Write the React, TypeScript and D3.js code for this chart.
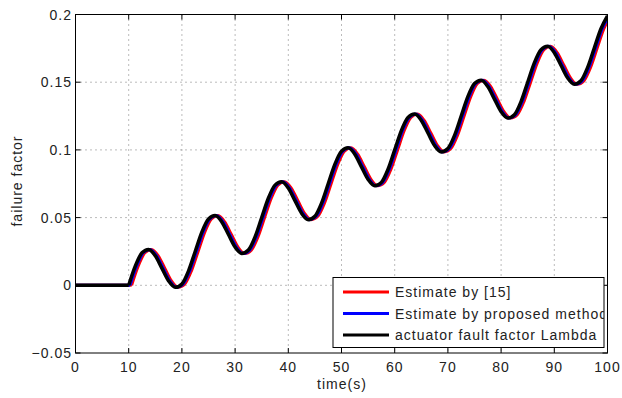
import React from "react";
import * as d3 from "d3";

// time samples (s)
const timeSamples: number[] = [
  0, 10,
  11.25, 12.5, 13.75, 15, 16.25, 17.5, 18.75, 20, 21.25,
  22.5, 23.75, 25, 26.25, 27.5, 28.75, 30, 31.25, 32.5, 33.75,
  35, 36.25, 37.5, 38.75, 40, 41.25, 42.5, 43.75, 45, 46.25,
  47.5, 48.75, 50, 51.25, 52.5, 53.75, 55, 56.25, 57.5, 58.75,
  60, 61.25, 62.5, 63.75, 65, 66.25, 67.5, 68.75, 70, 71.25,
  72.5, 73.75, 75, 76.25, 77.5, 78.75, 80, 81.25, 82.5, 83.75,
  85, 86.25, 87.5, 88.75, 90, 91.25, 92.5, 93.75, 95, 96.25,
  97.5, 98.75, 100,
];

// actuator fault factor Lambda
const lambdaValues: number[] = [
  0, 0,
  0.0143, 0.024, 0.0265, 0.0218, 0.0125, 0.0032, -0.0015, 0.001, 0.0107,
  0.025, 0.0393, 0.049, 0.0515, 0.0468, 0.0375, 0.0282, 0.0235, 0.026, 0.0357,
  0.05, 0.0643, 0.074, 0.0765, 0.0718, 0.0625, 0.0532, 0.0485, 0.051, 0.0607,
  0.075, 0.0893, 0.099, 0.1015, 0.0968, 0.0875, 0.0782, 0.0735, 0.076, 0.0857,
  0.1, 0.1143, 0.124, 0.1265, 0.1218, 0.1125, 0.1032, 0.0985, 0.101, 0.1107,
  0.125, 0.1393, 0.149, 0.1515, 0.1468, 0.1375, 0.1282, 0.1235, 0.126, 0.1357,
  0.15, 0.1643, 0.174, 0.1765, 0.1718, 0.1625, 0.1532, 0.1485, 0.151, 0.1607,
  0.175, 0.1893, 0.199,
];

// estimation lag of each estimator (s)
const redLag = 0.55;
const blueLag = 0.25;

const xTicks: number[] = [0, 10, 20, 30, 40, 50, 60, 70, 80, 90, 100];
const yTicks: number[] = [-0.05, 0, 0.05, 0.1, 0.15, 0.2];
const yTickLabels: string[] = ["\u22120.05", "0", "0.05", "0.1", "0.15", "0.2"];

const legendLabels: string[] = [
  "Estimate by [15]",
  "Estimate by proposed method",
  "actuator fault factor Lambda",
];
const seriesColors: string[] = ["#ff0000", "#0000ff", "#000000"];

const W = 622;
const H = 398;
const L = 75.5;
const R = 607.5;
const T = 14.5;
const B = 353;
const FONT = "'Liberation Sans', Arial, Helvetica, sans-serif";

export default function App() {
  const x = d3.scaleLinear().domain([0, 100]).range([L, R]);
  const y = d3.scaleLinear().domain([-0.05, 0.2]).range([B, T]);

  const mk = (lag: number) => {
    const pts: [number, number][] = timeSamples.map((t, i) => [
      t === 0 ? 0 : t + lag,
      lambdaValues[i],
    ]);
    return pts;
  };
  const curve = d3
    .line<[number, number]>()
    .x((d) => x(d[0]))
    .y((d) => y(d[1]))
    .curve(d3.curveMonotoneX);
  const straight = d3
    .line<[number, number]>()
    .x((d) => x(d[0]))
    .y((d) => y(d[1]));

  const pathFor = (pts: [number, number][]) => {
    const flat = straight(pts.slice(0, 2)) || "";
    const rest = curve(pts.slice(1)) || "";
    return flat + rest;
  };

  const series = [mk(redLag), mk(blueLag), mk(0)];
  const widths = [3, 3, 3.5];

  const legX = 333;
  const legY = 277.5;
  const legW = 271;
  const legH = 70;
  const rowY = [292, 313.5, 335];

  return (
    <svg width={W} height={H} style={{ position: "absolute", left: 0, top: 0, background: "#fff" }}>
      <defs>
        <clipPath id="plot">
          <rect x={L} y={T - 2} width={R - L} height={B - T + 2} />
        </clipPath>
        <clipPath id="leg">
          <rect x={legX} y={legY} width={legW} height={legH} />
        </clipPath>
      </defs>
      <rect x={0} y={0} width={W} height={H} fill="#fff" />
      {/* grid */}
      {xTicks.slice(1, -1).map((t) => (
        <line key={"gx" + t} x1={x(t)} x2={x(t)} y1={T} y2={B} stroke="#777" strokeWidth={1} strokeDasharray="1,4" />
      ))}
      {yTicks.slice(1, -1).map((t) => (
        <line key={"gy" + t} x1={L} x2={R} y1={y(t)} y2={y(t)} stroke="#777" strokeWidth={1} strokeDasharray="1,4" />
      ))}
      {/* ticks */}
      {xTicks.map((t) => (
        <g key={"tx" + t}>
          <line x1={x(t)} x2={x(t)} y1={B} y2={B - 5} stroke="#000" />
          <line x1={x(t)} x2={x(t)} y1={T} y2={T + 5} stroke="#000" />
          <text x={x(t)} y={372} textAnchor="middle" fontFamily={FONT} fontSize={14} letterSpacing={1} fill="#222">
            {t}
          </text>
        </g>
      ))}
      {yTicks.map((t, i) => (
        <g key={"ty" + t}>
          <line x1={L} x2={L + 5} y1={y(t)} y2={y(t)} stroke="#000" />
          <line x1={R} x2={R - 5} y1={y(t)} y2={y(t)} stroke="#000" />
          <text x={72} y={y(t) + 5} textAnchor="end" fontFamily={FONT} fontSize={14} letterSpacing={1} fill="#222">
            {yTickLabels[i]}
          </text>
        </g>
      ))}
      {/* series */}
      <g clipPath="url(#plot)">
        {series.map((s, i) => (
          <path key={i} d={pathFor(s)} fill="none" stroke={seriesColors[i]} strokeWidth={widths[i]} strokeLinejoin="round" />
        ))}
      </g>
      {/* frame */}
      <rect x={L} y={T} width={R - L} height={B - T} fill="none" stroke="#000" strokeWidth={1} />
      {/* axis labels */}
      <text x={342} y={389} textAnchor="middle" fontFamily={FONT} fontSize={14} letterSpacing={1} fill="#222">
        time(s)
      </text>
      <text
        transform={`translate(22,181) rotate(-90)`}
        textAnchor="middle"
        fontFamily={FONT}
        fontSize={14}
        letterSpacing={1}
        fill="#222"
      >
        failure factor
      </text>
      {/* legend */}
      <rect x={legX} y={legY} width={legW} height={legH} fill="#fff" stroke="#000" strokeWidth={1} />
      <g clipPath="url(#leg)">
        {legendLabels.map((lab, i) => (
          <g key={lab}>
            <line x1={343} x2={389} y1={rowY[i]} y2={rowY[i]} stroke={seriesColors[i]} strokeWidth={3} />
            <text x={395} y={rowY[i] + 5} fontFamily={FONT} fontSize={14} letterSpacing={1} fill="#222">
              {lab}
            </text>
          </g>
        ))}
      </g>
    </svg>
  );
}
